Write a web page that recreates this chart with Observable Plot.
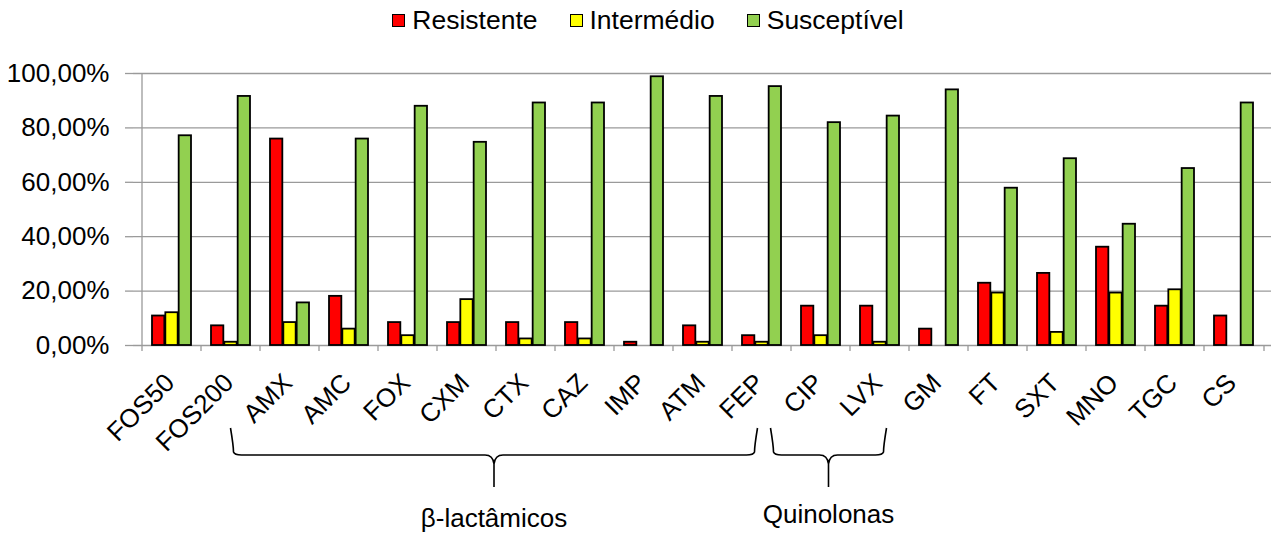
<!DOCTYPE html>
<html><head><meta charset="utf-8">
<script src="https://cdn.jsdelivr.net/npm/d3@7"></script>
<script src="https://cdn.jsdelivr.net/npm/@observablehq/plot@0.6"></script>
<style>
body{margin:0;background:#fff;font-family:"Liberation Sans",Arial,sans-serif;}
#legend{height:40px;display:flex;justify-content:center;align-items:center;font-size:26.5px;color:#000;padding-left:22px;box-sizing:border-box;width:1274px;}
.item{display:flex;align-items:center;margin:0 16px;}
.sw{width:11px;height:11px;border:1.5px solid #000;margin-right:7px;}
</style></head><body>
<div id="legend"></div><div id="chart"></div>
<script>
const categories = ["FOS50","FOS200","AMX","AMC","FOX","CXM","CTX","CAZ","IMP","ATM","FEP","CIP","LVX","GM","FT","SXT","MNO","TGC","CS"];
const series = ["Resistente","Intermédio","Susceptível"];
const resistente  = [10.84, 7.23, 75.90, 18.07, 8.43, 8.43, 8.43, 8.43, 1.20, 7.23, 3.61, 14.46, 14.46, 6.02, 22.89, 26.51, 36.14, 14.46, 10.84];
const intermedio  = [12.05, 1.20, 8.43, 6.02, 3.61, 16.87, 2.41, 2.41, 0, 1.20, 1.20, 3.61, 1.20, 0, 19.28, 4.82, 19.28, 20.48, 0];
const susceptivel = [77.11, 91.57, 15.66, 75.90, 87.95, 74.70, 89.16, 89.16, 98.80, 91.57, 95.18, 81.93, 84.34, 93.98, 57.83, 68.67, 44.58, 65.06, 89.16];
const yTicks = [0, 20, 40, 60, 80, 100];
const groups = [
  {label: "β-lactâmicos", from: "AMX", to: "FEP"},
  {label: "Quinolonas", from: "CIP", to: "LVX"}
];

const colors = ["#FF0000", "#FFFF00", "#92D050"];
const braceStyle = [{dl: -57, dr: -6, ly: 182}, {dl: -48, dr: 5, ly: 178}];
const gray = "#9a9a9a";
const fs = 26;

const valuesBySeries = [resistente, intermedio, susceptivel];
const table = categories.flatMap((c, i) => series.map((s, k) => ({cat: c, series: s, value: valuesBySeries[k][i]})));

// legend
const leg = document.getElementById("legend");
series.forEach((s, k) => {
  const it = document.createElement("div"); it.className = "item";
  const sw = document.createElement("div"); sw.className = "sw"; sw.style.background = colors[k];
  const tx = document.createElement("span"); tx.textContent = s;
  it.appendChild(sw); it.appendChild(tx); leg.appendChild(it);
});

function braces(index, scales, values, dims) {
  const x = scales.x, bw = x.bandwidth ? x.bandwidth() : 0;
  const y0 = scales.y(0);
  const g = d3.create("svg:g");
  groups.forEach((gr, i) => {
    const st = braceStyle[i];
    const L = x(gr.from) + bw / 2 + st.dl;
    const R = x(gr.to) + bw / 2 + st.dr;
    const C = (L + R) / 2;
    const t = y0 + 83, h = y0 + 110, tip = y0 + 142, r = 9;
    const d = `M${L - 2},${t} Q${L + 1},${h - r} ${L + 1},${h - 3} Q${L + 2},${h} ${L + r},${h} L${C - r},${h} Q${C - 1},${h} ${C},${h + r} L${C},${tip}` +
              ` M${C},${h + r} Q${C + 1},${h} ${C + r},${h} L${R - r},${h} Q${R - 2},${h} ${R - 1},${h - 3} Q${R - 1},${h - r} ${R + 2},${t}`;
    g.append("path").attr("d", d).attr("fill", "none").attr("stroke", "#000").attr("stroke-width", 1.6);
    g.append("text").attr("x", C).attr("y", y0 + st.ly).attr("text-anchor", "middle")
      .attr("font-size", fs).attr("fill", "#000").text(gr.label);
  });
  return g.node();
}

const insets = [[10, 36.67], [23.33, 23.33], [36.67, 10]];

const chart = Plot.plot({
  width: 1274,
  height: 494,
  marginTop: 33,
  marginBottom: 189,
  marginLeft: 133,
  marginRight: 3,
  style: {fontFamily: "Liberation Sans, Arial, sans-serif", fontSize: fs + "px", color: "#000", background: "#fff", overflow: "visible"},
  x: {domain: categories, padding: 0, axis: null},
  y: {domain: [0, 100], axis: null},
  marks: [
    Plot.gridY(yTicks, {stroke: gray, strokeOpacity: 1, strokeWidth: 1.3}),
    Plot.axisY(yTicks, {label: null, tickSize: 8, tickPadding: 16, fontSize: fs, stroke: gray, strokeWidth: 1.3, fill: "#000",
      tickFormat: d => d.toFixed(2).replace(".", ",") + "%"}),
    Plot.ruleX([categories[0]], {x: d => d, dx: -30, y1: 0, y2: 100, stroke: gray, strokeWidth: 1.3}),
    Plot.ruleX(categories, {x: d => d, dx: -30, y1: 0, y2: -2.2, stroke: gray, strokeWidth: 1.3}),
    Plot.ruleX([categories[categories.length - 1]], {x: d => d, dx: 30, y1: 0, y2: -2.2, stroke: gray, strokeWidth: 1.3}),
    ...series.map((s, k) => Plot.barY(table.filter(d => d.series === s && d.value > 0), {
      x: "cat", y: "value", fill: colors[k], stroke: "#000", strokeWidth: 1.8,
      insetLeft: insets[k][0], insetRight: insets[k][1]
    })),
    Plot.text(categories, {x: d => d, frameAnchor: "bottom", dx: -2, dy: 33, rotate: -45, textAnchor: "end",
      lineAnchor: "middle", fontSize: fs, fill: "#000"}),
    braces
  ]
});
document.getElementById("chart").appendChild(chart);
</script>
</body></html>
